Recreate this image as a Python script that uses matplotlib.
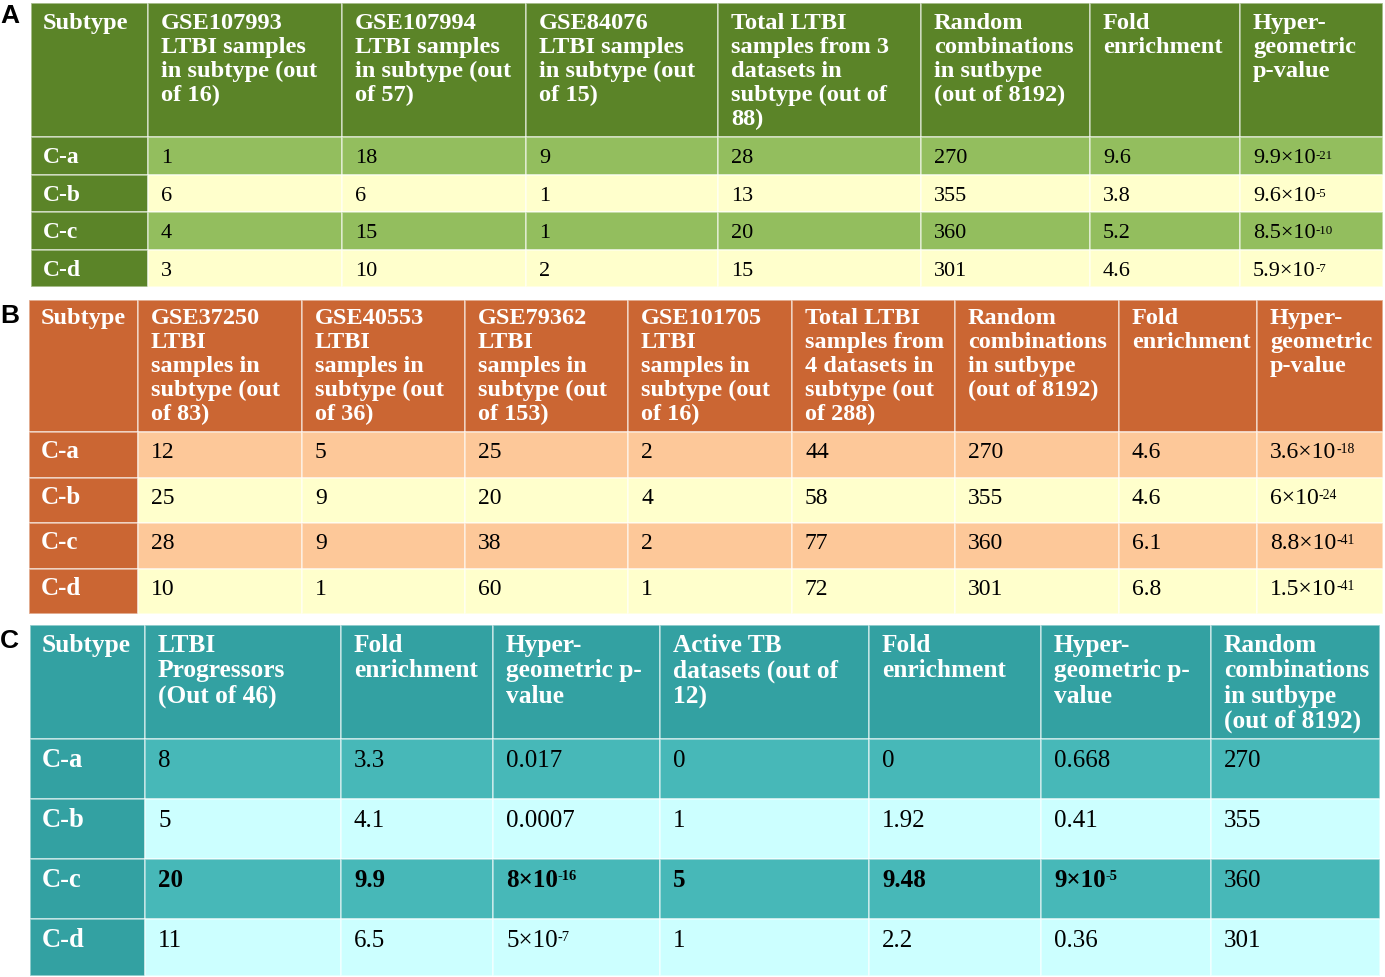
import matplotlib
matplotlib.use("Agg")
import matplotlib.pyplot as plt
from matplotlib.patches import Rectangle

plt.rcParams['font.family'] = ['Liberation Serif', 'DejaVu Serif']

# ---- data ----
subtypes = ["C-a", "C-b", "C-c", "C-d"]
random_combos = [270, 355, 360, 301]

# panel A
a_headers = ["Subtype",
             "GSE107993\nLTBI samples\nin subtype (out\nof 16)",
             "GSE107994\nLTBI samples\nin subtype (out\nof 57)",
             "GSE84076\nLTBI samples\nin subtype (out\nof 15)",
             "Total LTBI\nsamples from 3\ndatasets in\nsubtype (out of\n88)",
             "Random\ncombinations\nin sutbype\n(out of 8192)",
             "Fold\nenrichment",
             "Hyper-\ngeometric\np-value"]
a_gse107993 = [1, 6, 4, 3]
a_gse107994 = [18, 6, 15, 10]
a_gse84076 = [9, 1, 1, 2]
a_total = [28, 13, 20, 15]
a_fold = [9.6, 3.8, 5.2, 4.6]
a_pvalue = ["9.9×10^-21", "9.6×10^-5", "8.5×10^-10", "5.9×10^-7"]

# panel B
b_headers = ["Subtype",
             "GSE37250\nLTBI\nsamples in\nsubtype (out\nof 83)",
             "GSE40553\nLTBI\nsamples in\nsubtype (out\nof 36)",
             "GSE79362\nLTBI\nsamples in\nsubtype (out\nof 153)",
             "GSE101705\nLTBI\nsamples in\nsubtype (out\nof 16)",
             "Total LTBI\nsamples from\n4 datasets in\nsubtype (out\nof 288)",
             "Random\ncombinations\nin sutbype\n(out of 8192)",
             "Fold\nenrichment",
             "Hyper-\ngeometric\np-value"]
b_gse37250 = [12, 25, 28, 10]
b_gse40553 = [5, 9, 9, 1]
b_gse79362 = [25, 20, 38, 60]
b_gse101705 = [2, 4, 2, 1]
b_total = [44, 58, 77, 72]
b_fold = [4.6, 4.6, 6.1, 6.8]
b_pvalue = ["3.6×10^-18", "6×10^-24", "8.8×10^-41", "1.5×10^-41"]

# panel C
c_headers = ["Subtype",
             "LTBI\nProgressors\n(Out of 46)",
             "Fold\nenrichment",
             "Hyper-\ngeometric p-\nvalue",
             "Active TB\ndatasets (out of\n12)",
             "Fold\nenrichment",
             "Hyper-\ngeometric p-\nvalue",
             "Random\ncombinations\nin sutbype\n(out of 8192)"]
c_progressors = [8, 5, 20, 11]
c_prog_fold = [3.3, 4.1, 9.9, 6.5]
c_prog_pvalue = ["0.017", "0.0007", "8×10^-16", "5×10^-7"]
c_active = [0, 1, 5, 1]
c_active_fold = [0, 1.92, 9.48, 2.2]
c_active_pvalue = ["0.668", "0.41", "9×10^-5", "0.36"]
c_bold_row = 2

# ---- layout ----
fig = plt.figure(figsize=(13.85, 9.77), dpi=100)
ax = fig.add_axes([0, 0, 1, 1])
ax.set_xlim(0, 1385)
ax.set_ylim(977, 0)
ax.axis('off')
renderer = fig.canvas.get_renderer()


def put_text(x, y, s, size, weight, color, va, spacing=1.2):
    base, _, sup = s.partition('^')
    t = ax.text(x, y, base, fontsize=size, fontweight=weight, color=color,
                ha='left', va=va, linespacing=spacing)
    if sup:
        bb = t.get_window_extent(renderer)
        x1, ytop = ax.transData.inverted().transform((bb.x1, bb.y1))
        ax.text(x1, ytop + 1, sup, fontsize=size * 0.58, fontweight=weight,
                color=color, ha='left', va='top')


def draw_panel(letter, letter_y, headers, columns, xedges, yedges,
               head_col, row_cols, head_size, head_spacing, body_size,
               head_cap, body_base, bold_row=None, bold_skip=()):
    ax.text(0, letter_y, letter, fontsize=19, fontweight='bold',
            family='Liberation Sans', ha='left', va='baseline')
    nrows = len(yedges) - 1
    for r in range(nrows):
        for c in range(len(xedges) - 1):
            x0, x1 = xedges[c], xedges[c + 1]
            y0, y1 = yedges[r], yedges[r + 1]
            if r == 0 or c == 0:
                fc = head_col
            else:
                fc = row_cols[(r - 1) % 2]
            ax.add_patch(Rectangle((x0, y0), x1 - x0, y1 - y0, facecolor=fc,
                                   edgecolor=(1, 1, 1, 0.55), lw=1.2))
            pad = 12 if c == 0 else 13
            if r == 0:
                put_text(x0 + pad, y0 + head_cap, headers[c], head_size,
                         'bold', 'white', 'top', spacing=head_spacing)
            elif c == 0:
                put_text(x0 + pad, y0 + body_base, subtypes[r - 1],
                         body_size * 1.06, 'bold', 'white', 'baseline')
            else:
                w = 'bold' if (bold_row == r - 1 and c not in bold_skip) else 'normal'
                put_text(x0 + pad, y0 + body_base, str(columns[c - 1][r - 1]),
                         body_size, w, 'black', 'baseline')


draw_panel("A", 23, a_headers,
           [a_gse107993, a_gse107994, a_gse84076, a_total, random_combos,
            a_fold, a_pvalue],
           [31, 148, 342, 526, 718, 921, 1090, 1240, 1383],
           [3, 137, 175, 212, 250, 287],
           '#5b8428', ['#93be5e', '#ffffcc'], 17.6, 1.18, 16, 10, 26)

draw_panel("B", 323, b_headers,
           [b_gse37250, b_gse40553, b_gse79362, b_gse101705, b_total,
            random_combos, b_fold, b_pvalue],
           [29, 138, 302, 465, 628, 792, 955, 1119, 1257, 1383],
           [300, 432, 478, 523, 569, 614],
           '#cb6633', ['#fdc899', '#ffffcc'], 17.5, 1.18, 17, 8, 26)

draw_panel("C", 648, c_headers,
           [c_progressors, c_prog_fold, c_prog_pvalue, c_active,
            c_active_fold, c_active_pvalue, random_combos],
           [30, 145, 341, 493, 660, 869, 1041, 1211, 1380],
           [625, 739, 799, 859, 919, 976],
           '#33a1a2', ['#47b8b8', '#ccffff'], 18.3, 1.13, 18, 9, 28,
           bold_row=c_bold_row, bold_skip=(7,))

fig.savefig("out.png", dpi=100)
